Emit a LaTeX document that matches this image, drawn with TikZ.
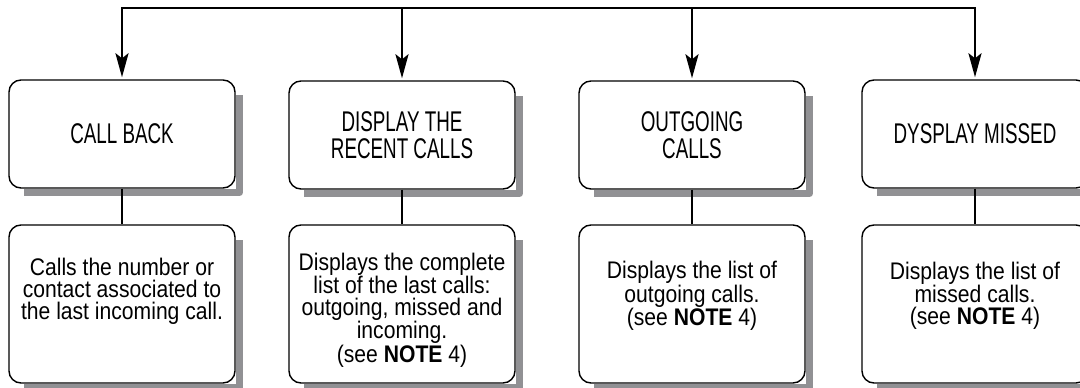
\documentclass[tikz,border=0pt]{standalone}
\usepackage{fontspec}
\setmainfont{Liberation Sans}[FakeStretch=0.88]
\newfontfamily\titlefont{Liberation Sans}[FakeStretch=0.66]
\usetikzlibrary{arrows.meta}
\definecolor{shadowgray}{RGB}{145,145,148}
\begin{document}
\begin{tikzpicture}[x=1pt,y=1pt,
 box/.style={draw=black, line width=1.4pt, rounded corners=12pt, fill=white,
   minimum width=226pt, inner sep=0pt, align=center},
 topbox/.style={box, minimum height=108pt, font=\titlefont\fontsize{28.5}{27.5}\selectfont},
 botbox/.style={box, minimum height=158pt},
 shadowline/.style={draw=shadowgray, line width=6.5pt, line cap=butt, line join=round},
 conn/.style={line width=2.7pt},
 arr/.style={conn, -{Stealth[length=24pt,width=13pt,inset=5pt]}, shorten >=2pt},
 txt/.style={align=center, inner sep=0pt, font=\fontsize{24}{21.8}\selectfont}
]
\path[use as bounding box] (0,0) rectangle (1080,388);

% top boxes
\node[topbox] (t1) at (122,254) {CALL BACK};
\node[topbox] (t2) at (402,253) {DISPLAY THE\\RECENT CALLS};
\node[topbox] (t3) at (692,253) {OUTGOING\\CALLS};
\node[topbox] (t4) at (975,254) {DYSPLAY MISSED};

% bottom boxes
\node[botbox] (b1) at (122,84) {};
\node[botbox] (b2) at (402,84) {};
\node[botbox] (b3) at (692,84) {};
\node[botbox] (b4) at (975,84) {};

% shadows: L-shaped gray strips along right and bottom edges
\foreach \n in {t1,t2,t3,t4,b1,b2,b3,b4} {
  \draw[shadowline] ([xshift=3.9pt,yshift=-16pt]\n.north east)
     -- ([xshift=3.9pt,yshift=-3.9pt]\n.south east)
     -- ([xshift=16pt,yshift=-3.9pt]\n.south west);
}

\node[txt] (b1t) at (122,97) {Calls the number or\\contact associated to\\the last incoming call.};
\node[txt] (b2t) at (402,78) {Displays the complete\\list of the last calls:\\outgoing, missed and\\incoming.\\(see \textbf{NOTE} 4)};
\node[txt] (b3t) at (692,92) {Displays the list of\\outgoing calls.\\(see \textbf{NOTE} 4)};
\node[txt] (b4t) at (975,92) {Displays the list of\\missed calls.\\(see \textbf{NOTE} 4)};

% bus
\coordinate (bus1) at (122,380);
\coordinate (bus4) at (975,380);
\draw[conn, line cap=rect] (bus1) -- (bus4);
\draw[arr] (bus1) -- (t1.north);
\draw[arr] (t2.north |- bus1) -- (t2.north);
\draw[arr] (t3.north |- bus1) -- (t3.north);
\draw[arr] (bus4) -- (t4.north);

% verticals
\draw[conn] (t1.south) -- (b1.north);
\draw[conn] (t2.south) -- (b2.north);
\draw[conn] (t3.south) -- (b3.north);
\draw[conn] (t4.south) -- (b4.north);
\end{tikzpicture}
\end{document}
